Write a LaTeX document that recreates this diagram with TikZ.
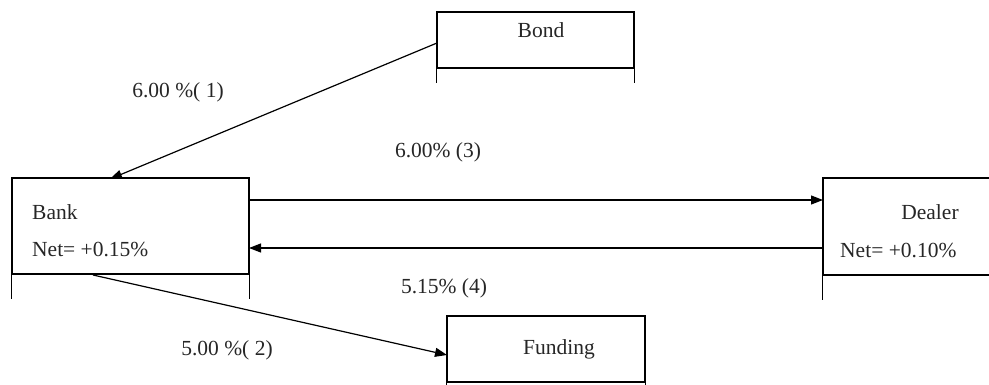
\documentclass[tikz,border=0pt]{standalone}
\usepackage{fontspec}
\setmainfont{Liberation Serif}
\usetikzlibrary{arrows.meta}
\begin{document}
\begin{tikzpicture}[x=1pt,y=-1pt,
  box/.style={draw, line width=1.2pt, rectangle, inner sep=0pt},
  ext/.style={line width=1.2pt},
  lbl/.style={font=\fontsize{21.5}{24}\selectfont, inner sep=0pt, text=black!85},
  conn/.style={line width=1.2pt, -{Triangle[length=12pt,width=9pt]}}]
\useasboundingbox (0,0) rectangle (989,385);
% boxes
\node[box, minimum width=197pt, minimum height=56pt] (bond) at (535.5,40) {};
\node[box, minimum width=237pt, minimum height=96pt] (bank) at (130.5,226) {};
\node[box, minimum width=200pt, minimum height=97pt] (dealer) at (923,226.5) {};
\node[box, minimum width=198pt, minimum height=66pt] (funding) at (546,349) {};
% extensions
\draw[ext] (bond.south west) -- ++(0,14);
\draw[ext] (bond.south east) -- ++(0,14);
\draw[ext] (bank.south west) -- ++(0,24);
\draw[ext] (bank.south east) -- ++(0,24);
\draw[ext] (dealer.south west) -- ++(0,24);
\draw[ext] (funding.south west) -- ++(0,10);
\draw[ext] (funding.south east) -- ++(0,10);
% texts
\node[lbl] (bondt) at (541,30) {Bond};
\node[lbl, anchor=west] (bankt) at (32,212) {Bank};
\node[lbl, anchor=west] (banknet) at (32,250) {Net= +0.15\%};
\node[lbl] (dealert) at (930,212) {Dealer};
\node[lbl, anchor=west] (dealernet) at (840,251) {Net= +0.10\%};
\node[lbl] (fundingt) at (559,349) {Funding};
% connector anchor points
\coordinate (b1) at (437,43);
\coordinate (k1) at (110,179);
\coordinate (k2) at (249,200);
\coordinate (d2) at (823,200);
\coordinate (d3) at (823,248);
\coordinate (k3) at (249,248);
\coordinate (k4) at (93,275);
\coordinate (f4) at (447,355);
\draw[conn] (b1) -- (k1);
\draw[conn] (k2) -- (d2);
\draw[conn] (d3) -- (k3);
\draw[conn] (k4) -- (f4);
% labels
\node[lbl] (l1) at (178,92) {6.00 \%( 1)};
\node[lbl] (l3) at (438,152) {6.00\% (3)};
\node[lbl] (l4) at (444,288) {5.15\% (4)};
\node[lbl] (l2) at (227,350) {5.00 \%( 2)};
\end{tikzpicture}
\end{document}
